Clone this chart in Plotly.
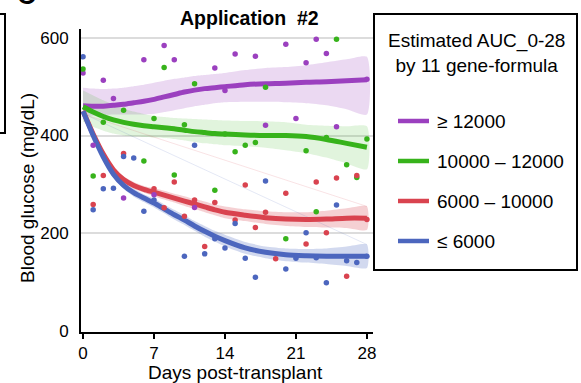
import plotly.graph_objects as go

# ---------------- data ----------------
groups = ["\u2265 12000", "10000 \u2013 12000", "6000 \u2013 10000", "\u2264 6000"]
colors = ["#9B40BF", "#37B31B", "#D9434F", "#4C66BE"]
band_alpha = [0.20, 0.15, 0.25, 0.25]

# observed points (day, glucose)
purple_days = [0, 1, 2, 3, 4, 6, 7, 8, 9, 11, 13, 14, 15, 17, 18, 20, 21, 22, 23, 24, 25, 28]
purple_vals = [528, 380, 513, 476, 272, 555, 279, 584, 555, 253, 538, 492, 567, 562, 421, 587, 435, 549, 597, 568, 418, 515]

green_days = [0, 1, 2, 4, 6, 7, 8, 9, 10, 11, 13, 14, 15, 16, 17, 18, 20, 22, 23, 24, 25, 26, 27, 28]
green_vals = [536, 317, 427, 452, 348, 435, 539, 319, 422, 506, 288, 403, 367, 380, 386, 499, 189, 369, 244, 396, 597, 340, 314, 393]

red_days = [1, 2, 4, 7, 8, 9, 10, 11, 12, 13, 15, 16, 17, 18, 19, 20, 22, 23, 24, 25, 26, 27, 28]
red_vals = [259, 318, 363, 291, 252, 305, 235, 268, 173, 263, 227, 299, 212, 243, 148, 282, 178, 305, 201, 313, 112, 318, 228]

blue_days = [0, 1, 2, 3, 4, 5, 6, 7, 10, 11, 12, 13, 14, 15, 16, 17, 18, 20, 21, 22, 23, 24, 25, 26, 27, 28]
blue_vals = [561, 248, 291, 292, 357, 354, 245, 268, 153, 380, 158, 189, 170, 220, 149, 110, 307, 127, 149, 201, 150, 99, 258, 144, 140, 153]

# smoothed fits with confidence bands
fit_days = [0, 1, 2, 3, 4, 5, 6, 7, 8, 9, 10, 11, 12, 13, 14, 16, 18, 20, 22, 24, 26, 28]

purple_fit = [461, 460, 460, 462, 464, 467, 470, 474, 479, 484, 489, 493, 496, 498, 500, 504, 506, 507, 509, 510, 512, 514]
purple_hi = [498, 496, 495, 496, 498, 501, 504, 508, 512, 516, 519, 522, 524, 526, 528, 534, 538, 540, 544, 550, 556, 561]
purple_lo = [440, 441, 442, 443, 443, 443, 443, 444, 448, 452, 456, 460, 463, 466, 468, 469, 469, 468, 466, 462, 454, 443]

green_fit = [459, 448, 439, 432, 427, 423, 420, 418, 416, 414, 411, 408, 406, 404, 403, 401, 400, 400, 398, 392, 384, 376]
green_hi = [492, 482, 472, 463, 455, 449, 444, 440, 438, 436, 435, 434, 433, 432, 431, 430, 429, 427, 422, 420, 419, 419]
green_lo = [428, 418, 410, 404, 400, 398, 397, 396, 395, 393, 390, 387, 384, 382, 380, 378, 375, 370, 364, 355, 343, 331]

red_fit = [450, 403, 362, 330, 310, 298, 290, 284, 278, 272, 266, 260, 254, 248, 243, 237, 232, 229, 228, 229, 231, 231]
red_hi = [456, 409, 368, 336, 316, 305, 297, 292, 287, 281, 276, 270, 265, 259, 255, 249, 245, 243, 243, 246, 251, 255]
red_lo = [444, 397, 356, 324, 304, 291, 283, 276, 269, 263, 256, 250, 243, 237, 231, 225, 219, 215, 213, 212, 211, 207]

blue_fit = [450, 400, 356, 321, 298, 283, 272, 262, 250, 238, 227, 215, 204, 194, 185, 170, 161, 156, 154, 153, 153, 153]
blue_hi = [455, 406, 362, 328, 305, 291, 280, 271, 259, 248, 237, 225, 215, 205, 197, 182, 173, 169, 168, 169, 173, 177]
blue_lo = [445, 394, 350, 314, 291, 275, 264, 253, 241, 228, 217, 205, 193, 183, 173, 158, 149, 143, 140, 137, 133, 129]

x_ticks = [0, 7, 14, 21, 28]
y_ticks = [0, 200, 400, 600]

title = "Application\u00a0\u00a0#2"
x_title = "Days post-transplant"
y_title = "Blood glucose (mg/dL)"
legend_title = "Estimated AUC_0-28<br>by 11 gene-formula"

# ---------------- figure ----------------
W, H = 581, 383
L, R, T, B = 81, 373, 29, 332  # plot area in pixels
FONT = "Liberation Sans, Arial, sans-serif"


def px(x):
    return (x - L) / (R - L)


def py(y):
    return (B - y) / (B - T)


def rgba(hexc, a):
    h = hexc.lstrip("#")
    r, g, b = int(h[0:2], 16), int(h[2:4], 16), int(h[4:6], 16)
    return f"rgba({r},{g},{b},{a})"


fits = [(purple_fit, purple_hi, purple_lo), (green_fit, green_hi, green_lo),
        (red_fit, red_hi, red_lo), (blue_fit, blue_hi, blue_lo)]
pts = [(purple_days, purple_vals), (green_days, green_vals),
       (red_days, red_vals), (blue_days, blue_vals)]

fig = go.Figure()

# bands
for (m, hi, lo), c, a in zip(fits, colors, band_alpha):
    fig.add_trace(go.Scatter(
        x=fit_days + fit_days[::-1], y=hi + lo[::-1], fill="toself",
        fillcolor=rgba(c, a), line=dict(width=0, shape="spline", smoothing=0.6),
        mode="lines", hoverinfo="skip", showlegend=False))

# faint ribbon seams (red / blue)
for (m, hi, lo), c in zip(fits[2:], colors[2:]):
    fig.add_trace(go.Scatter(
        x=[fit_days[0], fit_days[-1]], y=[lo[0], hi[-1]], mode="lines",
        line=dict(color=rgba(c, 0.15), width=1), hoverinfo="skip", showlegend=False))

# fitted lines
for (m, hi, lo), c, name in zip(fits, colors, groups):
    fig.add_trace(go.Scatter(
        x=fit_days, y=m, mode="lines", name=name,
        line=dict(color=c, width=5, shape="spline", smoothing=0.8), showlegend=False))

# points
for (d, v), c in zip(pts, colors):
    fig.add_trace(go.Scatter(
        x=d, y=v, mode="markers", marker=dict(color=c, size=5.5, line=dict(width=0)),
        showlegend=False))

shapes = []
annotations = []

# legend box
shapes.append(dict(type="rect", xref="paper", yref="paper",
                   x0=px(374), x1=px(577), y0=py(270), y1=py(14),
                   line=dict(color="black", width=2), fillcolor="rgba(0,0,0,0)"))
# partial box at left edge (neighbouring panel)
shapes.append(dict(type="rect", xref="paper", yref="paper",
                   x0=px(-20), x1=px(5), y0=py(133), y1=py(14),
                   line=dict(color="black", width=2), fillcolor="rgba(0,0,0,0)"))

annotations.append(dict(text=legend_title, xref="paper", yref="paper",
                        x=px(476), y=py(53), xanchor="center", yanchor="middle",
                        showarrow=False, font=dict(family=FONT, size=19, color="black")))
item_y = [121, 161, 201, 241]
for name, c, yy in zip(groups, colors, item_y):
    shapes.append(dict(type="line", xref="paper", yref="paper",
                       x0=px(398), x1=px(429), y0=py(yy), y1=py(yy),
                       line=dict(color=c, width=4.5)))
    annotations.append(dict(text=name, xref="paper", yref="paper",
                            x=px(435), y=py(yy), xanchor="left", yanchor="middle",
                            showarrow=False, font=dict(family=FONT, size=19, color="black")))

# titles
annotations.append(dict(text=f"<b>{title}</b>", xref="paper", yref="paper",
                        x=px(249), y=py(18), xanchor="center", yanchor="middle",
                        showarrow=False, font=dict(family=FONT, size=19.5, color="black")))
annotations.append(dict(text=x_title, xref="paper", yref="paper",
                        x=px(235), y=py(372), xanchor="center", yanchor="middle",
                        showarrow=False, font=dict(family=FONT, size=19, color="black")))
annotations.append(dict(text=y_title, xref="paper", yref="paper", textangle=-90,
                        x=px(27), y=py(188), xanchor="center", yanchor="middle",
                        showarrow=False, font=dict(family=FONT, size=19, color="black")))
# panel letter (cut off at top)
annotations.append(dict(text="<b>C</b>", xref="paper", yref="paper",
                        x=px(26), y=py(-5), xanchor="center", yanchor="middle",
                        showarrow=False, font=dict(family=FONT, size=26, color="black")))

fig.update_layout(
    width=W, height=H,
    margin=dict(l=L, r=W - R, t=T, b=H - B, pad=0),
    paper_bgcolor="white", plot_bgcolor="white",
    font=dict(family=FONT, size=17, color="black"),
    showlegend=False, hovermode=False,
    shapes=shapes, annotations=annotations,
    xaxis=dict(range=[-0.2, 28.6], tickvals=x_ticks, ticks="outside", ticklen=5,
               tickwidth=2, tickcolor="black", showline=True, linewidth=2,
               linecolor="black", showgrid=False, zeroline=False,
               tickfont=dict(size=17)),
    yaxis=dict(range=[-2, 618], tickvals=y_ticks, ticks="", showline=True,
               linewidth=2, linecolor="black", showgrid=True, gridcolor="#dcdcdc",
               gridwidth=2, zeroline=False, ticklabelstandoff=7,
               tickfont=dict(size=17)),
)

# remove the default 8px page margin so the figure sits at the window origin
fig.write_html("out.html", config={"displayModeBar": False},
               post_script="document.body.style.margin='0px';")
